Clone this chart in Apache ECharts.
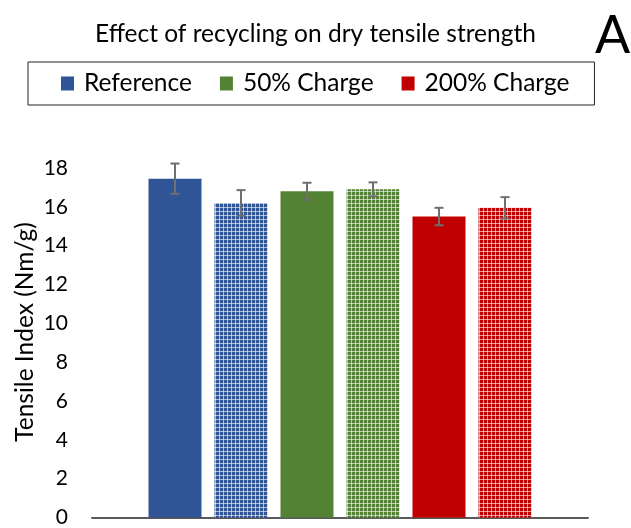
<!DOCTYPE html>
<html><head><meta charset="utf-8">
<script src="https://cdn.jsdelivr.net/npm/echarts@6/dist/echarts.min.js"></script>
<style>html,body{margin:0;padding:0;background:#fff}#c{width:631px;height:528px}</style>
</head><body><div id="c"></div>
<script>
const categories = ['Tensile'];
const seriesNames = ['Reference', 'Reference', '50% Charge', '50% Charge', '200% Charge', '200% Charge'];
const patterned = [false, true, false, true, false, true];
const values = [17.45, 16.2, 16.8, 16.9, 15.5, 15.95];
const errors = [0.78, 0.66, 0.44, 0.36, 0.45, 0.55];
const yTicks = [0, 2, 4, 6, 8, 10, 12, 14, 16, 18];
const legendNames = ['Reference', '50% Charge', '200% Charge'];
const yAxisTitle = 'Tensile Index (Nm/g)';
const chartTitle = 'Effect of recycling on dry tensile strength';
const panelLetter = 'A';

const colors = ['#2F5597', '#2F5597', '#548235', '#548235', '#C00000', '#C00000'];
const FONT = 'Lato';
const BAR_W = 53, BAR_GAP = 13 / 53;

function pattern(col) {
  const c = document.createElement('canvas');
  c.width = 4; c.height = 4;
  const g = c.getContext('2d');
  g.fillStyle = col; g.fillRect(0, 0, 4, 4);
  g.fillStyle = 'rgba(255,255,255,0.6)';
  g.fillRect(0, 3, 4, 1);
  g.fillRect(3, 0, 1, 4);
  return { image: c, repeat: 'repeat' };
}

const barSeries = values.map((v, i) => ({
  type: 'bar',
  name: seriesNames[i],
  data: [v],
  barWidth: BAR_W,
  barGap: (BAR_GAP * 100) + '%',
  itemStyle: { color: patterned[i] ? pattern(colors[i]) : colors[i] },
  emphasis: { disabled: true }
}));

const errData = values.map((v, i) => [0, v, errors[i], i]);
const errSeries = {
  type: 'custom',
  name: 'err',
  z: 10,
  clip: false,
  data: errData,
  renderItem: function (params, api) {
    const idx = api.value(3);
    const v = api.value(1), e = api.value(2);
    const pitch = BAR_W * (1 + BAR_GAP);
    const off = (idx - (values.length - 1) / 2) * pitch;
    const top = api.coord([api.value(0), v + e]);
    const bot = api.coord([api.value(0), v - e]);
    const x = top[0] + off;
    const cap = 4.5;
    const st = { stroke: '#6f6f6f', lineWidth: 2 };
    return { type: 'group', children: [
      { type: 'line', shape: { x1: x, y1: top[1], x2: x, y2: bot[1] }, style: st },
      { type: 'line', shape: { x1: x - cap, y1: top[1], x2: x + cap, y2: top[1] }, style: st },
      { type: 'line', shape: { x1: x - cap, y1: bot[1], x2: x + cap, y2: bot[1] }, style: st }
    ]};
  }
};

const chart = echarts.init(document.getElementById('c'), null, { renderer: 'canvas' });
chart.setOption({
  animation: false,
  title: {
    text: chartTitle,
    left: 90, top: 17,
    textStyle: { fontFamily: FONT, fontSize: 24.5, fontWeight: 'normal', color: '#000' }
  },
  graphic: [{
    type: 'text', left: 595, top: 10,
    style: { text: panelLetter, font: '52px ' + FONT, fill: '#000' }
  }, {
    type: 'text', x: 25, y: 332, rotation: Math.PI / 2,
    style: { text: yAxisTitle, font: '24.5px ' + FONT, fill: '#000', align: 'center', verticalAlign: 'middle' }
  }],
  legend: {
    data: legendNames,
    left: 28, top: 62,
    padding: [9, 25, 9, 33],
    itemGap: 28,
    itemWidth: 13, itemHeight: 14,
    icon: 'rect',
    borderColor: '#222', borderWidth: 1,
    selectedMode: false,
    textStyle: { fontFamily: FONT, fontSize: 24.5, color: '#000', padding: [0, 0, 0, 5] }
  },
  grid: { left: 92, right: 43, top: 168, bottom: 8, containLabel: false },
  xAxis: {
    type: 'category', data: categories,
    axisLine: { lineStyle: { color: '#595959', width: 2 } },
    axisTick: { show: false }, axisLabel: { show: false }
  },
  yAxis: {
    type: 'value', min: 0, max: 18, interval: 2,
    axisLine: { show: false }, axisTick: { show: false }, splitLine: { show: false },
    axisLabel: {
      fontFamily: FONT, fontSize: 21, color: '#000', margin: 24,
      formatter: v => yTicks.indexOf(v) >= 0 ? String(v) : ''
    }
  },
  series: barSeries.concat([errSeries])
});
</script></body></html>
